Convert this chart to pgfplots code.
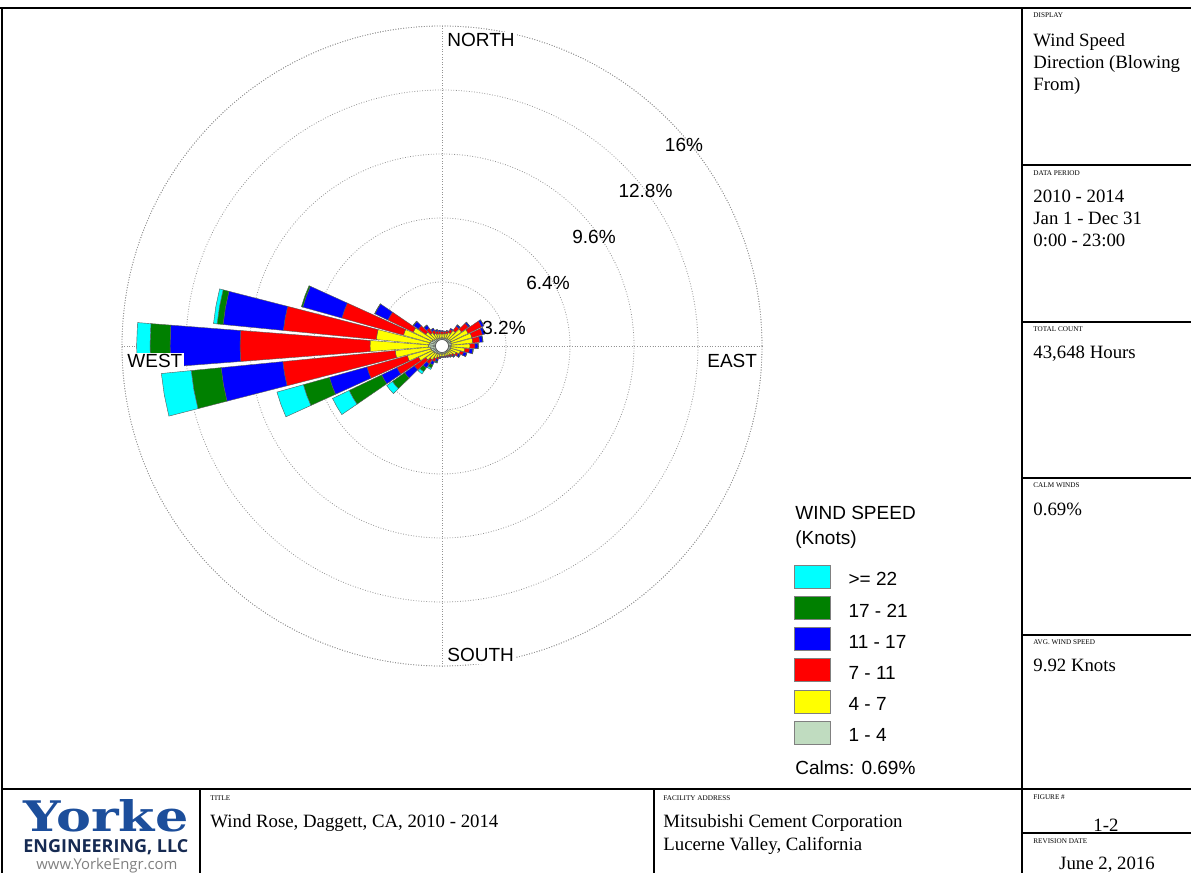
\documentclass[border=0pt]{standalone}
\usepackage{pgfplots}
\pgfplotsset{compat=1.18}
\usepackage{pgfplotstable}
\usepgfplotslibrary{polar}
\usepackage{fontspec}
\setmainfont{Liberation Serif}
\newfontfamily\arialfont{Liberation Sans}
\newfontfamily\logofont{DejaVu Serif}
\newfontfamily\opensansfont{Open Sans}

\definecolor{calmgreen}{RGB}{192,220,192}
\definecolor{wrgreen}{RGB}{0,128,0}
\definecolor{wrblue}{RGB}{0,0,255}
\definecolor{wrred}{RGB}{255,0,0}
\definecolor{wryellow}{RGB}{255,255,0}
\definecolor{wrcyan}{RGB}{0,255,255}
\definecolor{logoblue}{RGB}{28,78,155}
\definecolor{logonavy}{RGB}{22,42,82}

\newcommand\txt{\fontsize{9.4}{11}\selectfont}
\newcommand\caplabel{\fontsize{3.6}{4}\selectfont}
\newcommand\chartfont{\arialfont\fontsize{9.5}{11}\selectfont}

% Frequency (%) of each speed class, by direction the wind blows from
% b1: 1-4, b2: 4-7, b3: 7-11, b4: 11-17, b5: 17-21, b6: >=22 knots
\pgfplotstableread{
dir b1   b2   b3   b4   b5   b6
10  0.40 0.22 0.10 0.04 0.00 0.00
20  0.40 0.25 0.13 0.04 0.00 0.00
30  0.42 0.33 0.17 0.06 0.00 0.00
40  0.45 0.50 0.27 0.08 0.01 0.00
50  0.47 0.73 0.42 0.08 0.01 0.00
60  0.48 0.97 0.75 0.12 0.01 0.00
70  0.48 1.07 0.55 0.12 0.01 0.00
80  0.48 1.07 0.35 0.15 0.02 0.00
90  0.46 0.94 0.25 0.15 0.02 0.00
100 0.45 0.70 0.23 0.17 0.03 0.00
110 0.43 0.52 0.17 0.16 0.02 0.00
120 0.42 0.36 0.12 0.10 0.02 0.00
130 0.40 0.25 0.09 0.06 0.01 0.00
140 0.40 0.18 0.07 0.04 0.01 0.00
150 0.40 0.15 0.06 0.03 0.00 0.00
160 0.40 0.13 0.05 0.02 0.00 0.00
170 0.40 0.12 0.04 0.02 0.00 0.00
180 0.40 0.12 0.04 0.03 0.00 0.00
190 0.40 0.14 0.05 0.04 0.01 0.00
200 0.42 0.18 0.10 0.10 0.06 0.03
210 0.44 0.26 0.18 0.17 0.17 0.08
220 0.46 0.39 0.25 0.25 0.23 0.14
230 0.50 0.50 0.70 0.60 0.75 0.35
240 0.52 0.78 1.20 0.85 1.80 0.92
250 0.55 1.25 2.10 1.95 1.35 1.37
260 0.60 1.75 5.65 3.10 1.50 1.50
270 0.68 2.92 6.50 3.50 1.00 0.67
280 0.65 2.65 4.67 3.03 0.30 0.18
290 0.60 1.40 3.20 2.03 0.07 0.00
300 0.55 1.05 1.40 0.72 0.02 0.00
310 0.48 0.52 0.45 0.30 0.03 0.00
320 0.45 0.37 0.28 0.18 0.02 0.00
330 0.42 0.28 0.18 0.10 0.01 0.00
340 0.41 0.23 0.14 0.07 0.01 0.00
350 0.40 0.22 0.12 0.06 0.00 0.00
360 0.40 0.20 0.12 0.05 0.00 0.00
}\windrose

\begin{document}
\begin{tikzpicture}
\path[use as bounding box] (0pt,0pt) rectangle (595.5pt,436.5pt);

\begin{polaraxis}[
  at={(221pt,263.5pt)}, anchor=center,
  scale only axis, width=320pt, height=320pt,
  xmin=0, xmax=360, ymin=0, ymax=16,
  xtick={0,90,180,270}, ytick={3.2,6.4,9.6,12.8,16},
  xticklabels={}, yticklabels={},
  major tick length=0pt,
  grid=major,
  major grid style={draw=gray!85, line width=0.4pt, dash pattern=on 0.4pt off 0.9pt},
  axis line style={draw=gray!85, line width=0.4pt, dash pattern=on 0.4pt off 0.9pt},
  legend cell align=left,
  legend image code/.code={\draw[#1, line width=0.3pt] (0pt,-3.7pt) rectangle (18pt,7.8pt);},
  legend style={at={(1.05,0.158)}, anchor=north west, draw=none, fill=none,
    inner sep=0pt, outer sep=0pt, row sep=3.6pt, font=\chartfont,
    nodes={inner sep=0pt},
    /tikz/every odd column/.append style={column sep=9pt}},
]
\addlegendimage{fill=wrcyan, draw=gray}
\addlegendentry{>= 22}
\addlegendimage{fill=wrgreen, draw=gray}
\addlegendentry{17 - 21}
\addlegendimage{fill=wrblue, draw=gray}
\addlegendentry{11 - 17}
\addlegendimage{fill=wrred, draw=gray}
\addlegendentry{7 - 11}
\addlegendimage{fill=wryellow, draw=gray}
\addlegendentry{4 - 7}
\addlegendimage{fill=calmgreen, draw=gray}
\addlegendentry{1 - 4}

% stacked petals: one annular sector per speed class and direction
\pgfplotstablegetrowsof{\windrose}
\pgfmathtruncatemacro{\lastrow}{\pgfplotsretval-1}
\foreach \row in {0,...,\lastrow}{%
  \pgfplotstablegetelem{\row}{dir}\of{\windrose}\edef\dir{\pgfplotsretval}%
  \pgfmathsetmacro{\phic}{90-\dir}%
  \pgfmathsetmacro{\phia}{\phic-4.4}%
  \pgfmathsetmacro{\phib}{\phic+4.4}%
  \xdef\rin{0}%
  \foreach \bin/\col in {b1/calmgreen,b2/wryellow,b3/wrred,b4/wrblue,b5/wrgreen,b6/wrcyan}{%
    \pgfplotstablegetelem{\row}{\bin}\of{\windrose}\edef\val{\pgfplotsretval}%
    \pgfmathsetmacro{\rout}{\rin+\val}%
    \pgfmathtruncatemacro{\haspart}{\val>0 ? 1 : 0}%
    \ifnum\haspart=1
      \edef\petalplot{\noexpand\addplot[forget plot, fill=\col, draw=black!65, line width=0.2pt]
        coordinates {(\phia,\rin) (\phia,\rout) (\phic,\rout) (\phib,\rout) (\phib,\rin) (\phic,\rin)} -- cycle;}%
      \petalplot
    \fi
    \xdef\rin{\rout}%
  }%
}
\node[circle, fill=white, draw=black!70, line width=0.3pt, minimum size=6.5pt, inner sep=0pt] at (axis cs:0,0) {};
\end{polaraxis}

\begin{scope}[x=0.5pt, y=0.5pt]
  % frame
  \draw[line width=1pt] (0,865) -- (1191,865);
  \draw[line width=1pt] (1.5,0) -- (1.5,865);
  \draw[line width=1pt] (1022,0) -- (1022,865);
  \draw[line width=1pt] (1.5,84) -- (1191,84);
  \foreach \yy in {708,551,395,238,40} \draw[line width=1pt] (1022,\yy) -- (1191,\yy);
  \draw[line width=1pt] (200,0) -- (200,84);
  \draw[line width=1pt] (654,0) -- (654,84);

  % compass and ring labels
  \begin{scope}[every node/.style={font=\chartfont, inner sep=1pt}]
    \node[anchor=base west, fill=white] at (445,826) {NORTH};
    \node[anchor=base west, fill=white] at (125,505) {WEST};
    \node[anchor=base west, fill=white] at (705,505) {EAST};
    \node[anchor=base west, fill=white] at (445,211) {SOUTH};
    \node at (684,728) {16\%};
    \node at (645.5,682) {12.8\%};
    \node at (594,636) {9.6\%};
    \node at (548,590) {6.4\%};
    \node at (504,545) {3.2\%};
    \node[anchor=base west, inner sep=0pt] at (795,353) {WIND SPEED};
    \node[anchor=base west, inner sep=0pt] at (795,328) {(Knots)};
    \node[anchor=base west, inner sep=0pt] at (795,98) {Calms: 0.69\%};
  \end{scope}

  % side panel
  \begin{scope}[every node/.style={anchor=base west, inner sep=0pt, font=\txt}]
    \node[font=\caplabel] at (1033,855) {DISPLAY};
    \node at (1033,826) {Wind Speed};
    \node at (1033,804) {Direction (Blowing};
    \node at (1033,782) {From)};
    \node[font=\caplabel] at (1033,697) {DATA PERIOD};
    \node at (1033,670) {2010 - 2014};
    \node at (1033,648) {Jan 1 - Dec 31};
    \node at (1033,626) {0:00 - 23:00};
    \node[font=\caplabel] at (1033,541) {TOTAL COUNT};
    \node at (1033,514) {43,648 Hours};
    \node[font=\caplabel] at (1033,385) {CALM WINDS};
    \node at (1033,357) {0.69\%};
    \node[font=\caplabel] at (1033,228) {AVG. WIND SPEED};
    \node at (1033,201) {9.92 Knots};
    \node[font=\caplabel] at (1033,73) {FIGURE \#};
    \node[anchor=base] at (1106,41) {1-2};
    \node[font=\caplabel] at (1033,29) {REVISION DATE};
    \node[anchor=base] at (1107,3) {June 2, 2016};
    % title block
    \node[font=\caplabel] at (210,72) {TITLE};
    \node at (210,45) {Wind Rose, Daggett, CA, 2010 - 2014};
    \node[font=\caplabel] at (663,72) {FACILITY ADDRESS};
    \node at (663,45) {Mitsubishi Cement Corporation};
    \node at (663,22) {Lucerne Valley, California};
  \end{scope}

  % company logo
  \node[anchor=base west, inner sep=0pt, text=logoblue] at (23,41)
    {\resizebox{82.5pt}{16pt}{\logofont\bfseries Yorke}};
  \node[anchor=base west, inner sep=0pt, text=logonavy] at (23,20)
    {\resizebox{82.5pt}{6.5pt}{\opensansfont\bfseries ENGINEERING, LLC}};
  \node[anchor=base west, inner sep=0pt, text=gray] at (36,3)
    {\resizebox{70.5pt}{!}{\opensansfont www.YorkeEngr.com}};
\end{scope}
\end{tikzpicture}
\end{document}
